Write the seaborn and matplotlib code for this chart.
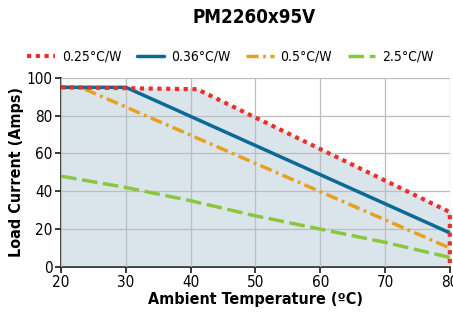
import matplotlib
matplotlib.use("Agg")
import matplotlib.pyplot as plt
import seaborn as sns
import pandas as pd

# curve data
temp_025 = [20, 41, 80, 80]
amps_025 = [95, 94, 29, 0]
temp_036 = [20, 30, 80]
amps_036 = [95, 95, 18]
temp_05 = [20, 23, 80]
amps_05 = [95, 95, 10]
temp_25 = [20, 30, 40, 50, 60, 70, 80]
amps_25 = [48, 42, 35, 27, 20, 13, 5]

labels = ["0.25°C/W", "0.36°C/W", "0.5°C/W", "2.5°C/W"]
colors = ["#e8312a", "#0a6a96", "#e8a020", "#8cc63f"]

sns.set_theme(style="white")
plt.rcParams["font.family"] = ["DejaVu Sans"]
plt.rcParams["font.stretch"] = "condensed"
plt.rcParams["text.color"] = "black"
plt.rcParams["axes.labelcolor"] = "black"
plt.rcParams["xtick.color"] = "black"
plt.rcParams["ytick.color"] = "black"

fig, ax = plt.subplots(figsize=(4.53, 3.14), dpi=100)
fig.subplots_adjust(left=0.135, right=0.993, top=0.752, bottom=0.15)

ax.fill_between(temp_025, amps_025, color="#d9e5eb", zorder=1)

d25 = pd.DataFrame({"t": temp_25, "a": amps_25})
sns.lineplot(data=d25, x="t", y="a", ax=ax, color=colors[3], lw=2.5,
             label=labels[3], zorder=3)
ax.lines[-1].set_dashes([4.5, 1.6])

d05 = pd.DataFrame({"t": temp_05, "a": amps_05})
sns.lineplot(data=d05, x="t", y="a", ax=ax, color=colors[2], lw=2.5,
             label=labels[2], zorder=4)
ax.lines[-1].set_dashes([3.5, 1.3, 0.8, 1.3])

d036 = pd.DataFrame({"t": temp_036, "a": amps_036})
sns.lineplot(data=d036, x="t", y="a", ax=ax, color=colors[1], lw=2.5,
             label=labels[1], zorder=5)

d025 = pd.DataFrame({"t": temp_025, "a": amps_025})
sns.lineplot(data=d025, x="t", y="a", ax=ax, color=colors[0], lw=3,
             sort=False, estimator=None, label=labels[0], zorder=6)
ax.lines[-1].set_dashes([1.0, 1.1])
ax.lines[-1].set_dash_capstyle("butt")
ax.lines[-1].set_clip_on(False)

ax.set_xlim(20, 80)
ax.set_ylim(0, 100)
ax.set_xticks(range(20, 81, 10))
ax.set_yticks(range(0, 101, 20))
ax.grid(True, color="#bdbdbd", lw=0.9)
ax.set_axisbelow(False)
for s in ["top", "right"]:
    ax.spines[s].set_visible(False)
for s in ["left", "bottom"]:
    ax.spines[s].set_color("#222222")
    ax.spines[s].set_linewidth(1.2)
ax.tick_params(axis="both", labelsize=11, length=4, color="#222222",
               direction="out", left=True, bottom=True, pad=2)

ax.set_xlabel("Ambient Temperature (ºC)", fontsize=11.5, fontweight="bold", labelpad=1)
ax.set_ylabel("Load Current (Amps)", fontsize=11.5, fontweight="bold", labelpad=2)

h, l = ax.get_legend_handles_labels()
order = [l.index(x) for x in labels]
ax.legend([h[i] for i in order], labels, loc="lower left",
          bbox_to_anchor=(-0.12, 1.01), ncol=4, frameon=False, fontsize=10,
          handlelength=2.0, columnspacing=1.1, handletextpad=0.5)

fig.suptitle("PM2260x95V", fontsize=13.5, fontweight="bold", x=0.56, y=0.975)

fig.savefig("out.png", dpi=100)
